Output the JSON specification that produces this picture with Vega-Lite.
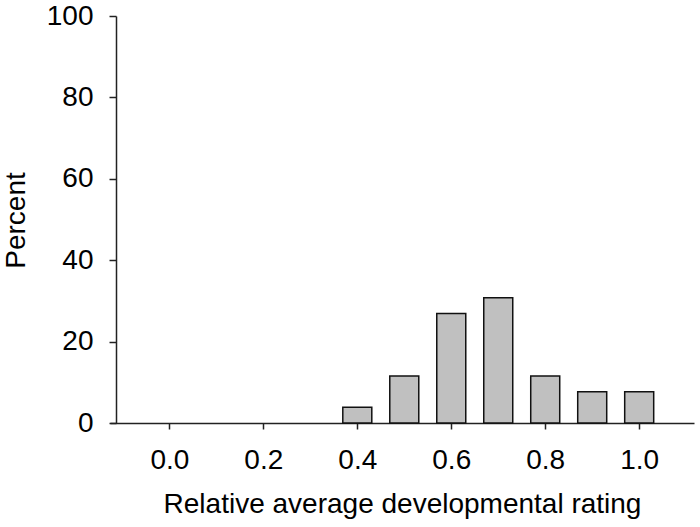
{
  "$schema": "https://vega.github.io/schema/vega-lite/v6.json",
  "autosize": "none",
  "padding": {"left": 110, "top": 16, "right": 6, "bottom": 104},
  "width": 584,
  "height": 407,
  "background": "white",
  "config": {
    "view": {"stroke": null},
    "font": "Liberation Sans",
    "axis": {"grid": false, "domainColor": "#222222", "tickColor": "#222222", "labelColor": "black", "titleColor": "black", "labelFont": "Liberation Sans", "titleFont": "Liberation Sans", "titleFontWeight": "normal", "domainWidth": 1.5, "tickWidth": 1.5}
  },
  "data": {"values": [
    {"rating": 0.4, "percent": 3.85},
    {"rating": 0.5, "percent": 11.54},
    {"rating": 0.6, "percent": 26.92},
    {"rating": 0.7, "percent": 30.77},
    {"rating": 0.8, "percent": 11.54},
    {"rating": 0.9, "percent": 7.69},
    {"rating": 1.0, "percent": 7.69}
  ]},
  "mark": {"type": "bar", "size": 29, "fill": "#c0c0c0", "stroke": "#111111", "strokeWidth": 1.5, "orient": "vertical"},
  "encoding": {
    "x": {"field": "rating", "type": "quantitative",
      "scale": {"domain": [-0.1157, 1.106], "nice": false, "zero": false},
      "axis": {"title": "Relative average developmental rating", "values": [0, 0.2, 0.4, 0.6, 0.8, 1.0], "format": ".1f",
        "tickSize": 6, "labelFontSize": 28, "labelBaseline": "alphabetic", "labelPadding": 39.5,
        "titleFontSize": 28, "titleBaseline": "alphabetic", "titleY": 89.5, "labelFlush": false}},
    "y": {"field": "percent", "type": "quantitative",
      "scale": {"domain": [0, 100], "nice": false},
      "axis": {"title": "Percent", "values": [0, 20, 40, 60, 80, 100], "offset": -6,
        "tickSize": 7, "labelFontSize": 28, "labelPadding": 16, "labelBaseline": "middle",
        "titleFontSize": 28, "titleAngle": -90, "titleX": -100, "titleY": 204, "titleAlign": "center", "titleBaseline": "middle", "labelFlush": false}}
  }
}
